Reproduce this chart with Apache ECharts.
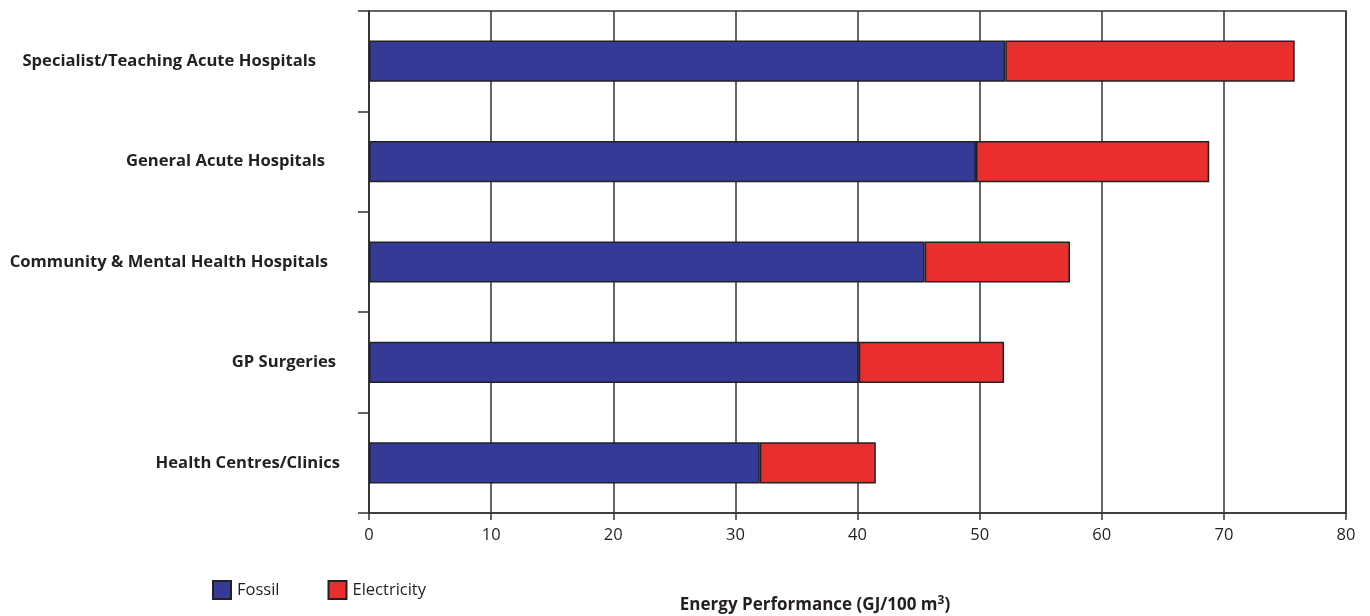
<!DOCTYPE html>
<html>
<head>
<meta charset="utf-8">
<script src="https://cdn.jsdelivr.net/npm/echarts@6/dist/echarts.min.js"></script>
<style>
  html, body { margin: 0; padding: 0; background: #fff; }
  #chart { width: 1370px; height: 616px; }
</style>
</head>
<body>
<div id="chart"></div>
<script>
// Energy performance by building type (GJ per 100 m3), split into fossil and electricity
const categories = [
  'Specialist/Teaching Acute Hospitals',
  'General Acute Hospitals',
  'Community & Mental Health Hospitals',
  'GP Surgeries',
  'Health Centres/Clinics'
];
const fossil = [52.1, 49.7, 45.5, 40.1, 32.0];
const electricity = [23.7, 19.1, 11.9, 11.9, 9.5];
const xTicks = [0, 10, 20, 30, 40, 50, 60, 70, 80];

// right-hand padding for each category label (label layout only)
const labelPad = [24, 15, 12, 4, 0];

const FONT = 'Open Sans';
const INK = '#231f20';

const chart = echarts.init(document.getElementById('chart'), null, { renderer: 'canvas' });

const richStyles = {};
categories.forEach((c, i) => {
  richStyles['c' + i] = {
    fontFamily: FONT, fontWeight: 'bold', fontSize: 16.6, color: INK,
    padding: [0, labelPad[i], 0, 0]
  };
});

chart.setOption({
  animation: false,
  backgroundColor: '#fff',
  grid: {
    left: 369, right: 24, top: 11, bottom: 103,
    show: true, borderColor: '#333', borderWidth: 1.5, backgroundColor: 'transparent'
  },
  legend: {
    left: 212, top: 580, padding: 0,
    itemWidth: 18, itemHeight: 18, itemGap: 48,
    icon: 'rect',
    textStyle: { fontFamily: FONT, fontSize: 16.5, color: INK, padding: [0, 0, 0, 1] },
    data: ['Fossil', 'Electricity']
  },
  title: {
    text: 'Energy Performance (GJ/100 m{sup|3})',
    left: 815, top: 595, textAlign: 'center', padding: 0,
    textStyle: {
      fontFamily: FONT, fontWeight: 'bold', fontSize: 17, color: INK,
      rich: { sup: { fontFamily: FONT, fontWeight: 'bold', fontSize: 12, color: INK, verticalAlign: 'bottom', padding: [0, 0, 9, 0] } }
    }
  },
  xAxis: {
    type: 'value', min: 0, max: 80, interval: 10,
    axisLine: { show: true, lineStyle: { color: '#333', width: 1.5 } },
    axisTick: { show: true, length: 7, lineStyle: { color: '#333', width: 1.5 } },
    axisLabel: {
      fontFamily: FONT, fontSize: 16.5, color: INK, margin: 14,
      formatter: v => xTicks.includes(v) ? String(v) : ''
    },
    splitLine: { show: true, lineStyle: { color: '#333', width: 1.5 } }
  },
  yAxis: {
    type: 'category', inverse: true, data: categories,
    axisLine: { show: true, lineStyle: { color: '#333', width: 1.5 } },
    axisTick: { show: true, length: 11, lineStyle: { color: '#333', width: 1.5 } },
    axisLabel: {
      margin: 29,
      formatter: (v, i) => '{c' + i + '|' + v + '}',
      rich: richStyles
    }
  },
  series: [
    {
      name: 'Fossil', type: 'bar', stack: 'total', data: fossil,
      barWidth: '41%',
      itemStyle: { color: '#353a96', borderColor: '#222', borderWidth: 1.5 }
    },
    {
      name: 'Electricity', type: 'bar', stack: 'total', data: electricity,
      itemStyle: { color: '#e92e30', borderColor: '#222', borderWidth: 1.5 }
    }
  ]
});
</script>
</body>
</html>
